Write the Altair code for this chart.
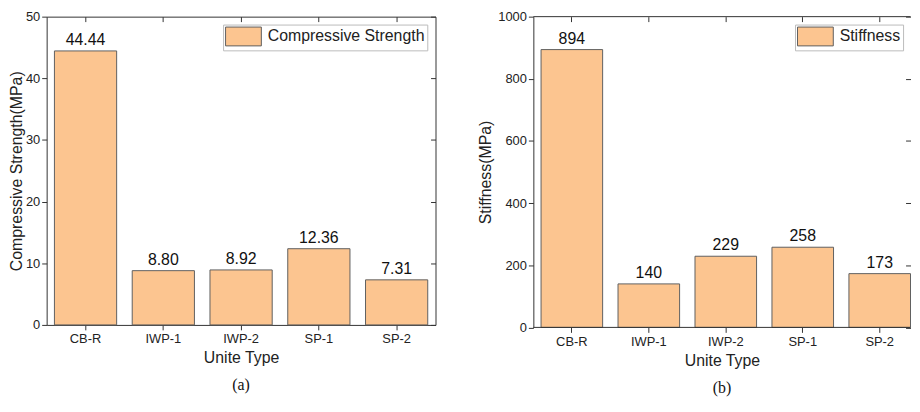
import altair as alt
import pandas as pd

categories = ["CB-R", "IWP-1", "IWP-2", "SP-1", "SP-2"]
strength = [44.44, 8.80, 8.92, 12.36, 7.31]
strength_labels = ["44.44", "8.80", "8.92", "12.36", "7.31"]
stiffness = [894, 140, 229, 258, 173]
stiffness_labels = ["894", "140", "229", "258", "173"]
ticks_a = [0, 10, 20, 30, 40, 50]
ticks_b = [0, 200, 400, 600, 800, 1000]

FILL = "#FCC590"
EDGE = "#5f5f5f"
DARK = "#333333"
FONT = "Liberation Sans"


def panel(values, labels, series, ytitle, ymax, yticks, width, height,
          caption, title_pad, extent, open_right=False):
    df = pd.DataFrame({"cat": categories, "val": values, "lab": labels,
                       "series": [series] * len(categories)})
    base = alt.Chart(df)
    if open_right:
        xscale = alt.Scale(domain=categories, paddingInner=0.2, paddingOuter=0.05, align=1)
    else:
        xscale = alt.Scale(domain=categories, paddingInner=0.2, paddingOuter=0.1)
    yscale = alt.Scale(domain=[0, ymax], nice=False, zero=True)

    bars = base.mark_bar(stroke=EDGE, strokeWidth=1, opacity=1).encode(
        x=alt.X("cat:N", scale=xscale, sort=categories,
                axis=alt.Axis(orient="bottom", title="Unite Type", labelAngle=0,
                              domain=False,
                              labelFont=FONT, labelFontSize=13, labelColor="#222",
                              titleFont=FONT, titleFontSize=16, titleFontWeight="normal",
                              titleColor="#222", titlePadding=4, labelPadding=3,
                              tickSize=5, tickColor=DARK)),
        y=alt.Y("val:Q", scale=yscale,
                axis=alt.Axis(orient="left", title=ytitle, values=yticks, grid=False,
                              format="d", domain=open_right, domainColor=DARK,
                              minExtent=extent, maxExtent=extent,
                              labelFont=FONT, labelFontSize=13, labelColor="#222",
                              titleFont=FONT, titleFontSize=16, titleFontWeight="normal",
                              titleColor="#222", titlePadding=title_pad, labelPadding=2,
                              tickSize=5, tickColor=DARK)),
        color=alt.Color("series:N", scale=alt.Scale(range=[FILL]),
                        legend=alt.Legend(title=None, orient="top-right", offset=8,
                                          padding=2, strokeColor="#bbbbbb",
                                          fillColor="white",
                                          symbolType="M-1,-1H2.8V1H-1Z",
                                          symbolSize=361, symbolStrokeColor=EDGE,
                                          symbolStrokeWidth=1, symbolOpacity=1,
                                          labelFont=FONT, labelFontSize=16,
                                          labelColor="#222", labelOffset=23)),
    )

    text = base.mark_text(baseline="bottom", dy=-3, fontSize=16, font=FONT,
                          color="#111").encode(
        x=alt.X("cat:N", scale=xscale, sort=categories,
                axis=alt.Axis(orient="top", labels=False, title=None, domain=False,
                              tickSize=5, offset=-5, tickColor=DARK)),
        y=alt.Y("val:Q", scale=yscale,
                axis=alt.Axis(orient="right", labels=False, title=None, domain=False,
                              values=yticks, grid=False, tickSize=5, offset=-5,
                              tickColor=DARK, minExtent=0)),
        text="lab:N",
    )

    layers = [bars, text]
    if open_right:
        frame = alt.Chart(pd.DataFrame({"edge": [0, ymax]})).mark_rule(
            color=DARK, strokeWidth=1).encode(
            y=alt.Y("edge:Q", scale=yscale, axis=None))
        layers.append(frame)

    view = alt.ViewBackground(stroke="transparent") if open_right else alt.ViewBackground(stroke=DARK)
    return alt.layer(*layers).resolve_axis(x="independent", y="independent").properties(
        width=width, height=height, view=view,
        title=alt.TitleParams(caption, orient="bottom", font="Liberation Serif",
                              fontSize=16, fontWeight="normal", color="#111", offset=12),
    )


left = panel(strength, strength_labels, "Compressive Strength",
             "Compressive Strength(MPa)", 50, ticks_a, 392.3, 311, "(a)", 1.5, 21)
right = panel(stiffness, stiffness_labels, "Stiffness", "Stiffness(MPa)", 1000,
              ticks_b, 380.5, 313.5, "(b)", 4, 36, open_right=True)

chart = alt.hconcat(left, right, spacing=40).resolve_scale(
    color="independent", x="independent", y="independent"
).resolve_legend(color="independent").properties(
    padding={"left": 0, "top": 0, "right": 0, "bottom": 0}
).configure_view(stroke=DARK, strokeWidth=1).configure(background="white")

chart.save("out.html", embed_options={"renderer": "svg", "actions": False})
